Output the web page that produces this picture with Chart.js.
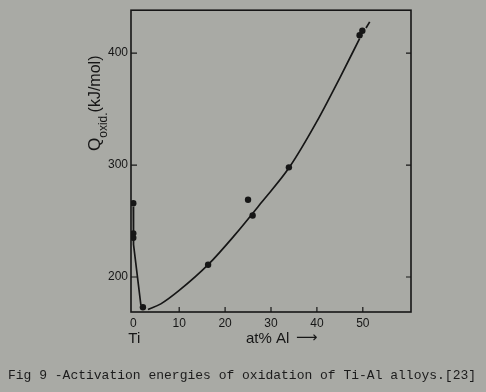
<!DOCTYPE html>
<html>
<head>
<meta charset="utf-8">
<script src="https://cdn.jsdelivr.net/npm/chart.js@4.4.1/dist/chart.umd.min.js"></script>
<style>
  html, body { margin: 0; padding: 0; background: #a9aaa5; }
  #wrap { position: relative; width: 486px; height: 392px; }
  #caption {
    position: absolute; left: 8px; top: 368px;
    font: 13px "Liberation Mono", monospace; color: #1c1c1c;
    white-space: nowrap; line-height: 16px;
  }
</style>
</head>
<body>
<div id="wrap">
  <canvas id="oxChart" width="486" height="392"></canvas>
  <div id="caption">Fig 9 -Activation energies of oxidation of Ti-Al alloys.[23]</div>
</div>
<script>
// measured points: pure Ti (x = 0) and the Ti-Al alloys
const tiX = [0, 0, 0];
const tiY = [266, 239, 235];
const alloyX = [2.1, 16.3, 25.0, 26.0, 33.9, 49.3, 49.9];
const alloyY = [173, 211, 269, 255, 298, 416, 420];

// drawn curves
const tiCurveX = [0.0, 0.05, 1.65];
const tiCurveY = [263, 229, 175];
const fitX = [3.2, 6, 10, 16.3, 22, 28, 34, 40, 45, 49.3];
const fitY = [171, 176, 188, 211, 237, 267, 298, 339, 378, 413];
const dashX = [50.7, 51.5];
const dashY = [422.5, 428];

const xTicks = [0, 10, 20, 30, 40, 50];
const yTicks = [200, 300, 400];

const ink = '#161616';
const pairs = (xs, ys) => xs.map((x, i) => ({ x: x, y: ys[i] }));

// frame, inward tick marks and axis titles
const framePlugin = {
    id: 'frame',
    afterDraw(chart) {
        const ctx = chart.ctx;
        const a = chart.chartArea;
        const xs = chart.scales.x, ys = chart.scales.y;
        ctx.save();
        ctx.strokeStyle = ink;
        ctx.lineWidth = 1.6;
        ctx.strokeRect(a.left, a.top, a.right - a.left, a.bottom - a.top);
        ctx.lineWidth = 1.2;
        ctx.beginPath();
        xTicks.forEach(v => {
            if (v === 0) return;
            const px = xs.getPixelForValue(v);
            ctx.moveTo(px, a.bottom);
            ctx.lineTo(px, a.bottom - 5);
        });
        yTicks.forEach(v => {
            const py = ys.getPixelForValue(v);
            ctx.moveTo(a.left, py);
            ctx.lineTo(a.left + 6, py);
            ctx.moveTo(a.right, py);
            ctx.lineTo(a.right - 5, py);
        });
        ctx.stroke();

        ctx.fillStyle = ink;
        ctx.textBaseline = 'alphabetic';
        ctx.font = '15px "Liberation Sans", Arial, sans-serif';
        ctx.textAlign = 'center';
        ctx.fillText('Ti', xs.getPixelForValue(0) + 1, 343);
        ctx.textAlign = 'left';
        ctx.fillText('at% Al', 246, 343);
        ctx.font = '15px "DejaVu Sans", sans-serif';
        ctx.fillText('\u27F6', 296, 342);

        // y title, rotated, with subscript
        ctx.translate(100, 151);
        ctx.rotate(-Math.PI / 2);
        ctx.font = '17px "Liberation Sans", Arial, sans-serif';
        ctx.fillText('Q', 0, 0);
        let w = ctx.measureText('Q').width;
        ctx.font = '12px "Liberation Sans", Arial, sans-serif';
        ctx.fillText('oxid.', w, 7);
        w += ctx.measureText('oxid.').width;
        ctx.font = '16px "Liberation Sans", Arial, sans-serif';
        ctx.fillText('(kJ/mol)', w, 0);
        ctx.restore();
    }
};

new Chart(document.getElementById('oxChart'), {
    type: 'scatter',
    data: {
        datasets: [
            {
                label: 'Ti',
                data: pairs(tiX, tiY),
                pointRadius: 3.2,
                pointBackgroundColor: ink,
                pointBorderWidth: 0
            },
            {
                label: 'Ti-Al',
                data: pairs(alloyX, alloyY),
                pointRadius: 3.2,
                pointBackgroundColor: ink,
                pointBorderWidth: 0
            },
            {
                label: 'Ti branch',
                data: pairs(tiCurveX, tiCurveY),
                showLine: true,
                borderColor: ink,
                borderWidth: 1.7,
                pointRadius: 0
            },
            {
                label: 'fit',
                data: pairs(fitX, fitY),
                showLine: true,
                cubicInterpolationMode: 'monotone',
                borderColor: ink,
                borderWidth: 1.7,
                pointRadius: 0
            },
            {
                label: 'fit (extrapolated)',
                data: pairs(dashX, dashY),
                showLine: true,
                borderColor: ink,
                borderWidth: 1.7,
                pointRadius: 0
            }
        ]
    },
    options: {
        responsive: false,
        devicePixelRatio: 1,
        animation: false,
        layout: { padding: { top: 10, right: 75, left: 0, bottom: 0 } },
        plugins: {
            legend: { display: false },
            tooltip: { enabled: false }
        },
        scales: {
            x: {
                type: 'linear',
                min: -0.5,
                max: 60.5,
                afterBuildTicks: s => { s.ticks = xTicks.map(v => ({ value: v })); },
                afterFit: s => { s.height = 80; },
                grid: { display: true, drawOnChartArea: false, drawTicks: false },
                border: { display: false },
                ticks: {
                    color: ink,
                    padding: 4,
                    maxRotation: 0,
                    font: { family: '"Liberation Sans", Arial, sans-serif', size: 12 }
                }
            },
            y: {
                type: 'linear',
                min: 168.75,
                max: 438.4,
                afterBuildTicks: s => { s.ticks = yTicks.map(v => ({ value: v })); },
                afterFit: s => { s.width = 131; },
                grid: { display: true, drawOnChartArea: false, drawTicks: false },
                border: { display: false },
                ticks: {
                    color: ink,
                    padding: 3,
                    font: { family: '"Liberation Sans", Arial, sans-serif', size: 12 }
                }
            }
        }
    },
    plugins: [framePlugin]
});
</script>
</body>
</html>
